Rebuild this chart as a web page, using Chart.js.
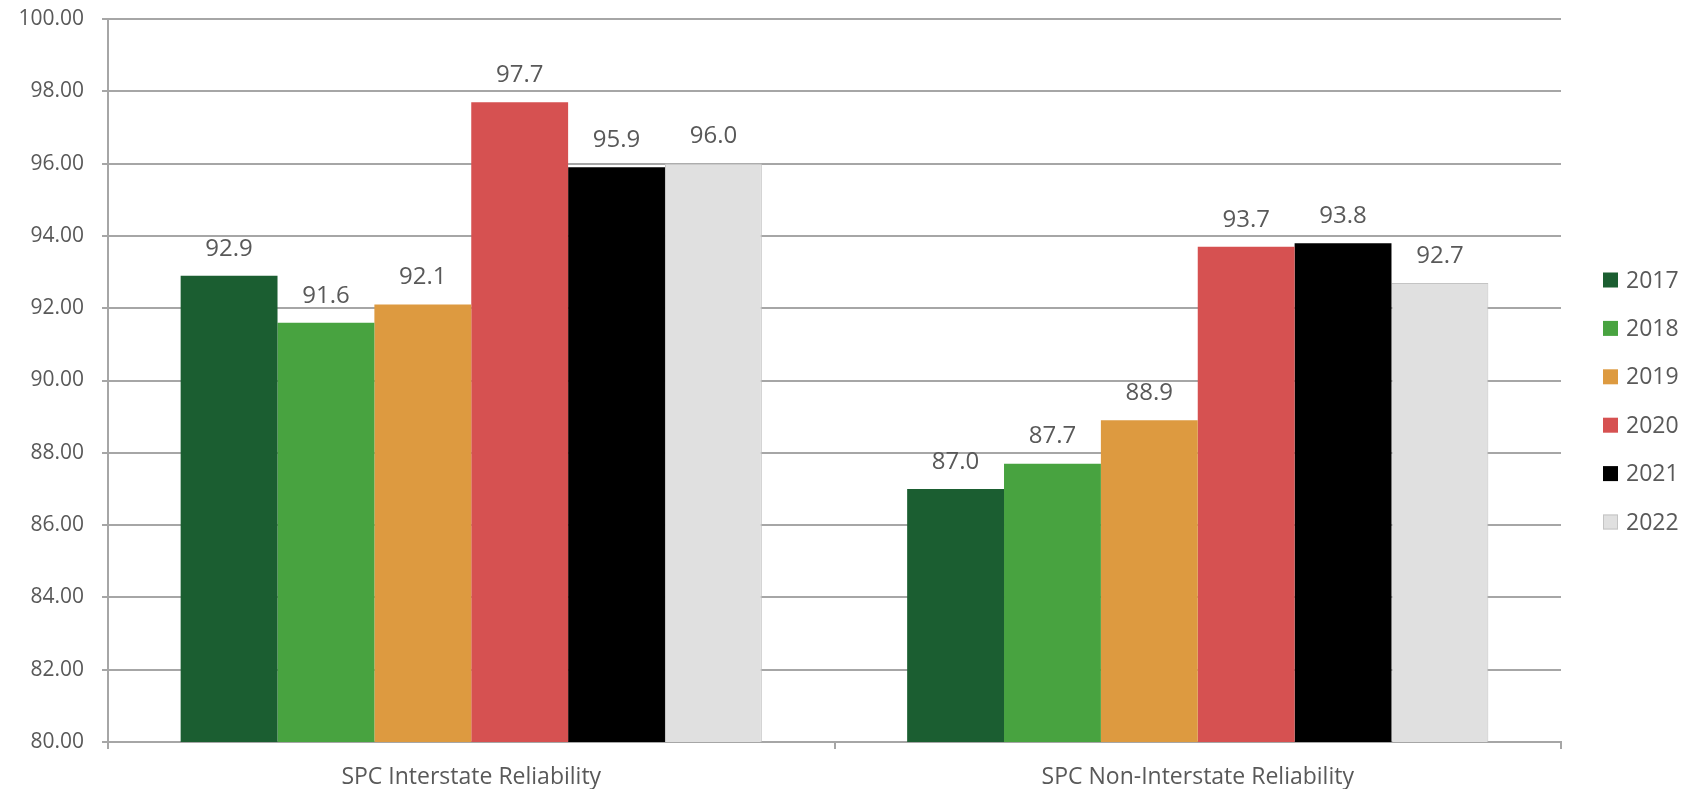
<!DOCTYPE html>
<html>
<head>
<meta charset="utf-8">
<title>SPC Reliability</title>
<script src="https://cdn.jsdelivr.net/npm/chart.js@4/dist/chart.umd.min.js"></script>
<style>
  html, body { margin: 0; padding: 0; background: #ffffff; }
  #wrap { width: 1683px; height: 789px; position: relative; }
</style>
</head>
<body>
<div id="wrap"><canvas id="chart" width="1683" height="789"></canvas></div>
<script>
// Reliability by category and year
const categories = ['SPC Interstate Reliability', 'SPC Non-Interstate Reliability'];
const years = ['2017', '2018', '2019', '2020', '2021', '2022'];
const values2017 = [92.9, 87.0];
const values2018 = [91.6, 87.7];
const values2019 = [92.1, 88.9];
const values2020 = [97.7, 93.7];
const values2021 = [95.9, 93.8];
const values2022 = [96.0, 92.7];
const yTicks = [80, 82, 84, 86, 88, 90, 92, 94, 96, 98, 100];

const seriesValues = [values2017, values2018, values2019, values2020, values2021, values2022];
const fills = ['#1b5e31', '#48a340', '#dd9a40', '#d65151', '#000000', '#e0e0e0'];
const strokes = ['#1b5e31', '#48a340', '#dd9a40', '#d65151', '#000000', '#c4c4c4'];

const FONT = '"Open Sans", "Noto Sans", sans-serif';
const TEXT = '#595959';
const GRID = '#a6a6a6';

// Value labels above each bar
const valueLabels = {
  id: 'valueLabels',
  afterDatasetsDraw(chart) {
    const ctx = chart.ctx;
    ctx.save();
    ctx.font = '24px ' + FONT;
    ctx.fillStyle = TEXT;
    ctx.textAlign = 'center';
    ctx.textBaseline = 'middle';
    chart.data.datasets.forEach((ds, i) => {
      chart.getDatasetMeta(i).data.forEach((bar, j) => {
        ctx.fillText(ds.data[j].toFixed(1), bar.x, bar.y - 27);
      });
    });
    ctx.restore();
  }
};

// Vertical legend to the right of the plot
const sideLegend = {
  id: 'sideLegend',
  afterDraw(chart) {
    const ctx = chart.ctx;
    const area = chart.chartArea;
    const boxX = area.right + 42;
    const startY = area.top + 261;
    ctx.save();
    ctx.font = '23px ' + FONT;
    ctx.textBaseline = 'middle';
    ctx.textAlign = 'left';
    chart.data.datasets.forEach((ds, i) => {
      const cy = startY + i * 48.4;
      ctx.fillStyle = ds.backgroundColor;
      ctx.fillRect(boxX, cy - 7.5, 15, 15);
      if (ds.borderColor !== ds.backgroundColor) {
        ctx.strokeStyle = ds.borderColor;
        ctx.lineWidth = 1;
        ctx.strokeRect(boxX + 0.5, cy - 7, 14, 14);
      }
      ctx.fillStyle = TEXT;
      ctx.fillText(ds.label, boxX + 23, cy + 1);
    });
    ctx.restore();
  }
};

new Chart(document.getElementById('chart'), {
  type: 'bar',
  data: {
    labels: categories,
    datasets: years.map((y, i) => ({
      label: y,
      data: seriesValues[i],
      backgroundColor: fills[i],
      borderColor: strokes[i],
      borderWidth: i === 5 ? 1 : 0,
      categoryPercentage: 0.8,
      barPercentage: 1.0
    }))
  },
  options: {
    responsive: false,
    animation: false,
    layout: { padding: { top: 19, right: 122, left: 0, bottom: 0 } },
    plugins: {
      legend: { display: false },
      tooltip: { enabled: false }
    },
    scales: {
      x: {
        offset: true,
        grid: {
          offset: true,
          drawOnChartArea: false,
          drawTicks: true,
          tickLength: 7,
          color: GRID,
          lineWidth: 2
        },
        border: { display: true, color: GRID, width: 2 },
        ticks: { color: TEXT, font: { family: FONT, size: 23 }, padding: 14.5 },
        afterFit(scale) { scale.height = 47; }
      },
      y: {
        min: 80,
        max: 100,
        afterBuildTicks(scale) { scale.ticks = yTicks.map(v => ({ value: v })); },
        grid: {
          color: GRID,
          lineWidth: 2,
          drawTicks: true,
          tickLength: 6
        },
        border: { display: true, color: GRID, width: 2 },
        ticks: {
          color: TEXT,
          font: { family: FONT, size: 21 },
          padding: 18,
          callback: (v) => Number(v).toFixed(2)
        },
        afterFit(scale) {
          scale.width = 108;
          scale.paddingTop = 0;
          scale.paddingBottom = 0;
        }
      }
    }
  },
  plugins: [valueLabels, sideLegend]
});
</script>
</body>
</html>
